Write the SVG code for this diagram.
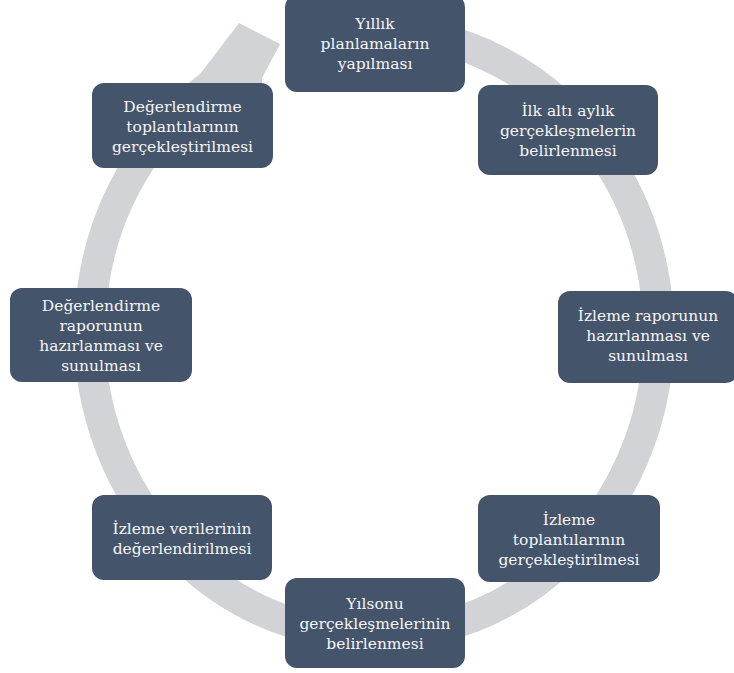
<svg xmlns="http://www.w3.org/2000/svg" width="734" height="673" viewBox="0 0 734 673">
<style>
.box{fill:#44546A;}
.t{font-family:"DejaVu Serif","Liberation Serif",serif;font-size:15.5px;fill:#F4F5F7;text-anchor:middle;}
.ring{fill:none;stroke:#D1D3D6;stroke-width:31;}
.head{fill:#D1D3D6;}
</style>
<rect width="734" height="673" fill="#FFFFFF"/>
<g id="connectors">
<path class="ring" d="M 374 30.5 A 284.5 302.5 0 1 1 246 62.9"/>
<polygon class="head" points="190,92 197,78 239,23 280,44 262,78 262,92"/>
</g>
<g id="n1">
<rect class="box" x="285" y="-5" width="180" height="97" rx="12"/>
<text class="t" x="375" y="29">Yıllık</text>
<text class="t" x="375" y="49">planlamaların</text>
<text class="t" x="375" y="69">yapılması</text>
</g>
<g id="n2">
<rect class="box" x="92" y="83" width="181" height="85" rx="12"/>
<text class="t" x="182.5" y="112">Değerlendirme</text>
<text class="t" x="182.5" y="132">toplantılarının</text>
<text class="t" x="182.5" y="152">gerçekleştirilmesi</text>
</g>
<g id="n3">
<rect class="box" x="478" y="85" width="180" height="90" rx="12"/>
<text class="t" x="568" y="116">İlk altı aylık</text>
<text class="t" x="568" y="136">gerçekleşmelerin</text>
<text class="t" x="568" y="156">belirlenmesi</text>
</g>
<g id="n4">
<rect class="box" x="10" y="288" width="182" height="94" rx="12"/>
<text class="t" x="101" y="310.5">Değerlendirme</text>
<text class="t" x="101" y="330.5">raporunun</text>
<text class="t" x="101" y="350.5">hazırlanması ve</text>
<text class="t" x="101" y="370.5">sunulması</text>
</g>
<g id="n5">
<rect class="box" x="558" y="291" width="180" height="92" rx="12"/>
<text class="t" x="648" y="321">İzleme raporunun</text>
<text class="t" x="648" y="341">hazırlanması ve</text>
<text class="t" x="648" y="361">sunulması</text>
</g>
<g id="n6">
<rect class="box" x="92" y="495" width="180" height="85" rx="12"/>
<text class="t" x="182" y="534">İzleme verilerinin</text>
<text class="t" x="182" y="554">değerlendirilmesi</text>
</g>
<g id="n7">
<rect class="box" x="285" y="578" width="180" height="90" rx="12"/>
<text class="t" x="375" y="609">Yılsonu</text>
<text class="t" x="375" y="629">gerçekleşmelerinin</text>
<text class="t" x="375" y="649">belirlenmesi</text>
</g>
<g id="n8">
<rect class="box" x="478" y="495" width="182" height="87" rx="12"/>
<text class="t" x="569" y="525">İzleme</text>
<text class="t" x="569" y="545">toplantılarının</text>
<text class="t" x="569" y="565">gerçekleştirilmesi</text>
</g>
</svg>
